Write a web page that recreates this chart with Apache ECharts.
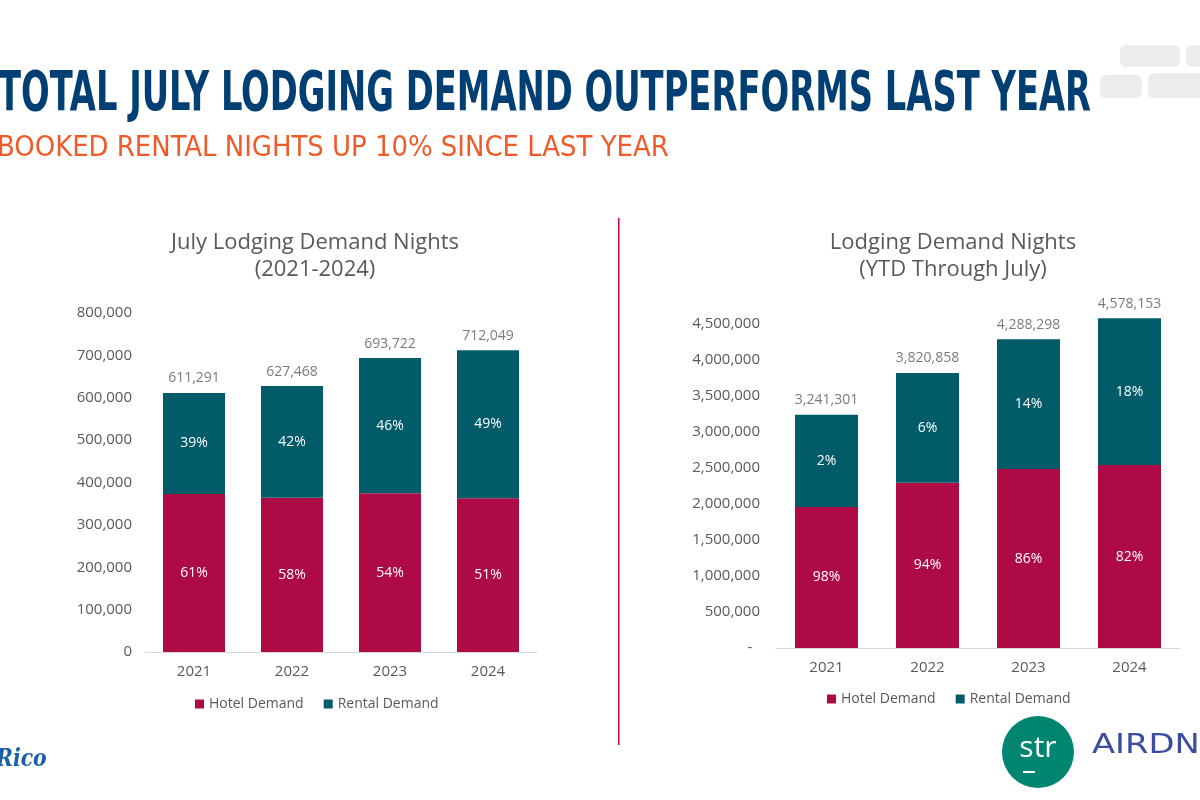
<!DOCTYPE html>
<html><head><meta charset="utf-8">
<script src="https://cdn.jsdelivr.net/npm/echarts@6/dist/echarts.min.js"></script>
<style>html,body{margin:0;padding:0;background:#fff}#c{width:1200px;height:800px}</style>
</head><body><div id="c"></div>
<script>
// ---- data ----
const years = ['2021', '2022', '2023', '2024'];
const julyHotel = [372900, 363900, 374600, 363100];
const julyRental = [238391, 263568, 319122, 348949];
const julyTotal = [611291, 627468, 693722, 712049];
const julyHotelPct = ['61%', '58%', '54%', '51%'];
const julyRentalPct = ['39%', '42%', '46%', '49%'];
const ytdHotel = [1960000, 2295000, 2485000, 2540000];
const ytdRental = [1281301, 1525858, 1803298, 2038153];
const ytdTotal = [3241301, 3820858, 4288298, 4578153];
const ytdHotelPct = ['98%', '94%', '86%', '82%'];
const ytdRentalPct = ['2%', '6%', '14%', '18%'];
const seriesNames = ['Hotel Demand', 'Rental Demand'];

const HOTEL = '#ad0a46';
const RENTAL = '#015b68';
const GREY = '#595959';
const FONT = '"Open Sans", sans-serif';
const fmt = v => Number(v).toLocaleString('en-US');

const chart = echarts.init(document.getElementById('c'), null, { renderer: 'canvas' });

function pctLabel(arr) {
  return { show: true, position: 'inside', color: '#fff', fontSize: 14, fontFamily: FONT,
           formatter: p => arr[p.dataIndex] };
}
function totalSeries(idx, totals) {
  return {
    type: 'scatter', xAxisIndex: idx, yAxisIndex: idx, data: totals,
    symbolSize: 1, itemStyle: { color: 'rgba(0,0,0,0)' }, silent: true, z: 5,
    label: { show: true, position: 'top', distance: 7, color: GREY, fontSize: 14, fontFamily: FONT,
             formatter: p => fmt(totals[p.dataIndex]) }
  };
}
const xAxisBase = {
  type: 'category', data: years,
  axisLine: { lineStyle: { color: '#d9d9d9', width: 1 } },
  axisTick: { show: false },
  axisLabel: { color: GREY, fontSize: 15, fontFamily: FONT, margin: 12 }
};

chart.setOption({
  animation: false,
  backgroundColor: '#fff',
  title: [
    { text: 'July Lodging Demand Nights\n(2021-2024)', left: 310, top: 224, textAlign: 'center',
      textStyle: { color: GREY, fontSize: 22, fontWeight: 'normal', fontFamily: FONT, lineHeight: 27 } },
    { text: 'Lodging Demand Nights\n(YTD Through July)', left: 948, top: 224, textAlign: 'center',
      textStyle: { color: GREY, fontSize: 22, fontWeight: 'normal', fontFamily: FONT, lineHeight: 27 } }
  ],
  legend: [
    { data: seriesNames, left: 190, top: 692, icon: 'rect', itemWidth: 9, itemHeight: 9, itemGap: 20,
      textStyle: { color: GREY, fontSize: 14, fontFamily: FONT } },
    { data: seriesNames, left: 822, top: 687, icon: 'rect', itemWidth: 9, itemHeight: 9, itemGap: 20,
      textStyle: { color: GREY, fontSize: 14, fontFamily: FONT } }
  ],
  grid: [
    { left: 145, right: 663, top: 313, bottom: 148 },
    { left: 776, right: 20, top: 288, bottom: 152 }
  ],
  xAxis: [
    Object.assign({ gridIndex: 0 }, xAxisBase),
    Object.assign({ gridIndex: 1 }, xAxisBase)
  ],
  yAxis: [
    { type: 'value', gridIndex: 0, min: 0, max: 800000, interval: 100000,
      splitLine: { show: false }, axisLine: { show: false }, axisTick: { show: false },
      axisLabel: { color: GREY, fontSize: 15, fontFamily: FONT, margin: 13, formatter: v => fmt(v) } },
    { type: 'value', gridIndex: 1, min: 0, max: 5000000, interval: 500000,
      splitLine: { show: false }, axisLine: { show: false }, axisTick: { show: false },
      axisLabel: { color: GREY, fontSize: 15, fontFamily: FONT, margin: 16, showMaxLabel: false,
                   formatter: v => v === 0 ? '-  ' : fmt(v) } }
  ],
  series: [
    { name: 'Hotel Demand', type: 'bar', stack: 'a', xAxisIndex: 0, yAxisIndex: 0, data: julyHotel,
      barWidth: 62, itemStyle: { color: HOTEL }, label: pctLabel(julyHotelPct) },
    { name: 'Rental Demand', type: 'bar', stack: 'a', xAxisIndex: 0, yAxisIndex: 0, data: julyRental,
      barWidth: 62, itemStyle: { color: RENTAL }, label: pctLabel(julyRentalPct) },
    totalSeries(0, julyTotal),
    { name: 'Hotel Demand', type: 'bar', stack: 'b', xAxisIndex: 1, yAxisIndex: 1, data: ytdHotel,
      barWidth: 63, itemStyle: { color: HOTEL }, label: pctLabel(ytdHotelPct) },
    { name: 'Rental Demand', type: 'bar', stack: 'b', xAxisIndex: 1, yAxisIndex: 1, data: ytdRental,
      barWidth: 63, itemStyle: { color: RENTAL }, label: pctLabel(ytdRentalPct) },
    totalSeries(1, ytdTotal)
  ],
  graphic: [
    // decorative grey brush strokes (top right)
    { type: 'rect', shape: { x: 1120, y: 45, width: 60, height: 22, r: 6 }, style: { fill: '#ececec' }, silent: true },
    { type: 'rect', shape: { x: 1186, y: 45, width: 20, height: 22, r: 6 }, style: { fill: '#ececec' }, silent: true },
    { type: 'rect', shape: { x: 1100, y: 75, width: 42, height: 23, r: 6 }, style: { fill: '#ececec' }, silent: true },
    { type: 'rect', shape: { x: 1148, y: 73, width: 60, height: 25, r: 6 }, style: { fill: '#ececec' }, silent: true },
    // headline
    { type: 'text', x: -2, y: 96, scaleX: 0.682, silent: true,
      style: { text: 'TOTAL JULY LODGING DEMAND OUTPERFORMS LAST YEAR', fill: '#003f73',
               font: 'bold 55px "DejaVu Sans Condensed"', verticalAlign: 'middle' } },
    { type: 'text', x: -3, y: 148, scaleX: 0.995, silent: true,
      style: { text: 'BOOKED RENTAL NIGHTS UP 10% SINCE LAST YEAR', fill: '#f05a28',
               font: '29px "DejaVu Sans Condensed"', verticalAlign: 'middle' } },
    // divider
    { type: 'rect', shape: { x: 618, y: 218, width: 1.5, height: 527 }, style: { fill: '#c2004f' }, silent: true },
    // logos
    { type: 'circle', shape: { cx: 1038, cy: 752, r: 36 }, style: { fill: '#008570' }, silent: true },
    { type: 'text', x: 1038, y: 748, silent: true,
      style: { text: 'str', fill: '#fff', font: '30px "Open Sans"', align: 'center', verticalAlign: 'middle' } },
    { type: 'rect', shape: { x: 1023, y: 771, width: 12, height: 2 }, style: { fill: '#fff' }, silent: true },
    { type: 'text', x: 1092, y: 746, scaleX: 1.3, silent: true,
      style: { text: 'AIRDNA', fill: '#3a4da0', font: '26px "DejaVu Sans"', verticalAlign: 'middle' } },
    { type: 'text', x: -4, y: 760, scaleX: 0.85, silent: true,
      style: { text: 'Rico', fill: '#1a5fa6', font: 'italic bold 24px "DejaVu Serif"', verticalAlign: 'middle' } }
  ]
});
</script>
</body></html>
